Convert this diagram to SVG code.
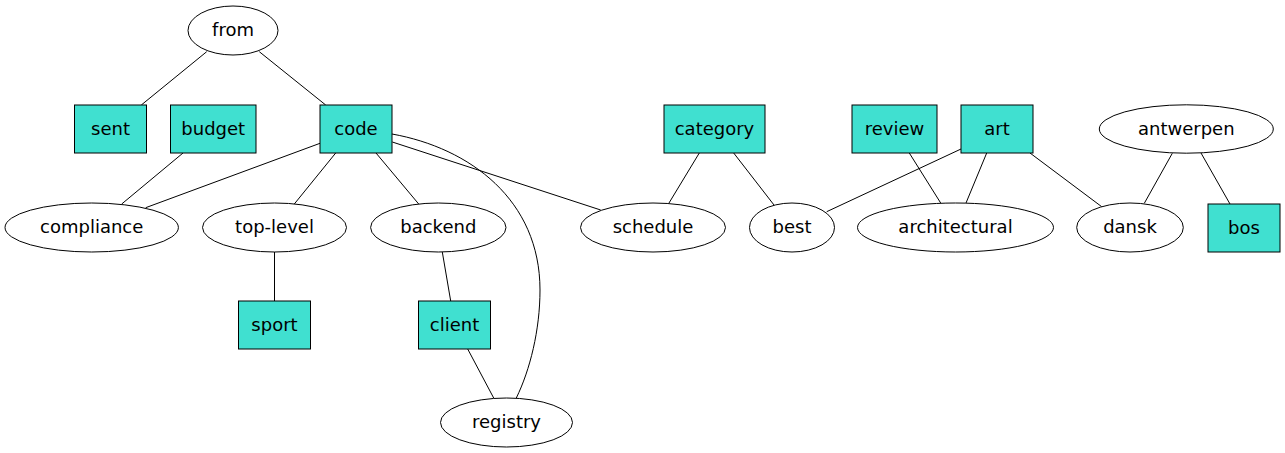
<svg xmlns="http://www.w3.org/2000/svg" width="1285" height="453" viewBox="0 0 1285 453">
<style>
.n ellipse{fill:#ffffff;stroke:#000000;stroke-width:1}
.n rect{fill:#40e0d0;stroke:#000000;stroke-width:1}
.n text{font-family:"DejaVu Sans",sans-serif;font-size:18px;text-anchor:middle;fill:#000000}
#edges path{fill:none;stroke:#000000;stroke-width:1}
</style>
<rect width="1285" height="453" fill="#ffffff"/>
<g id="edges">
<path d="M206.7,51.7 L141.3,105"/>
<path d="M259.3,51.7 L325.7,105"/>
<path d="M183,153 L121.7,204"/>
<path d="M320,143.3 L145.7,207.7"/>
<path d="M335.7,153 L294.3,204"/>
<path d="M376,153 L418.7,204"/>
<path d="M392.3,142 L600.7,210"/>
<path d="M392,134 C470,148 540,200 540,290 C540,330 530,370 516.3,398"/>
<path d="M274.5,252 L274.5,301"/>
<path d="M442.3,252 L450.7,301"/>
<path d="M467.7,349 L493.7,398"/>
<path d="M699.3,153 L669,203"/>
<path d="M733.7,153 L774,205"/>
<path d="M961,149 L826.7,211.7"/>
<path d="M909.3,153 L940.7,203"/>
<path d="M986.7,153 L966,203"/>
<path d="M1030,153 L1101.7,206.7"/>
<path d="M1172.3,153.3 L1144.3,203.3"/>
<path d="M1201,153 L1230,204"/>
</g>
<g id="node-from" class="n"><ellipse cx="233" cy="30.5" rx="45" ry="24.5"/><text x="233" y="35.5">from</text></g>
<g id="node-sent" class="n"><rect x="74.5" y="105" width="72" height="48"/><text x="110.5" y="134.5">sent</text></g>
<g id="node-budget" class="n"><rect x="170.5" y="105" width="85.5" height="48"/><text x="213.25" y="134.5">budget</text></g>
<g id="node-code" class="n"><rect x="320" y="105" width="72" height="48"/><text x="356" y="134.5">code</text></g>
<g id="node-category" class="n"><rect x="664" y="105" width="101" height="48"/><text x="714.5" y="134.5">category</text></g>
<g id="node-review" class="n"><rect x="852" y="105" width="85" height="48"/><text x="894.5" y="134.5">review</text></g>
<g id="node-art" class="n"><rect x="961" y="105" width="72" height="48"/><text x="997" y="134.5">art</text></g>
<g id="node-antwerpen" class="n"><ellipse cx="1186.3" cy="129" rx="87" ry="24.2"/><text x="1186.3" y="134.5">antwerpen</text></g>
<g id="node-compliance" class="n"><ellipse cx="91.7" cy="227.5" rx="86.7" ry="24.5"/><text x="91.7" y="233">compliance</text></g>
<g id="node-top-level" class="n"><ellipse cx="274.5" cy="227.5" rx="72" ry="24.5"/><text x="274.5" y="233">top-level</text></g>
<g id="node-backend" class="n"><ellipse cx="438.3" cy="227.5" rx="67.7" ry="24.5"/><text x="438.3" y="233">backend</text></g>
<g id="node-schedule" class="n"><ellipse cx="653" cy="227.5" rx="72.5" ry="24.5"/><text x="653" y="233">schedule</text></g>
<g id="node-best" class="n"><ellipse cx="792" cy="227.5" rx="42.5" ry="24.5"/><text x="792" y="233">best</text></g>
<g id="node-architectural" class="n"><ellipse cx="955.5" cy="227.5" rx="98" ry="24.5"/><text x="955.5" y="233">architectural</text></g>
<g id="node-dansk" class="n"><ellipse cx="1130" cy="227.5" rx="53.3" ry="24.5"/><text x="1130" y="233">dansk</text></g>
<g id="node-bos" class="n"><rect x="1208" y="204" width="72" height="48"/><text x="1244" y="233.5">bos</text></g>
<g id="node-sport" class="n"><rect x="238.5" y="301" width="72" height="48"/><text x="274.5" y="330.5">sport</text></g>
<g id="node-client" class="n"><rect x="418.5" y="301" width="72" height="48"/><text x="454.5" y="330.5">client</text></g>
<g id="node-registry" class="n"><ellipse cx="506.5" cy="422.5" rx="66" ry="24.5"/><text x="506.5" y="428">registry</text></g>
</svg>
